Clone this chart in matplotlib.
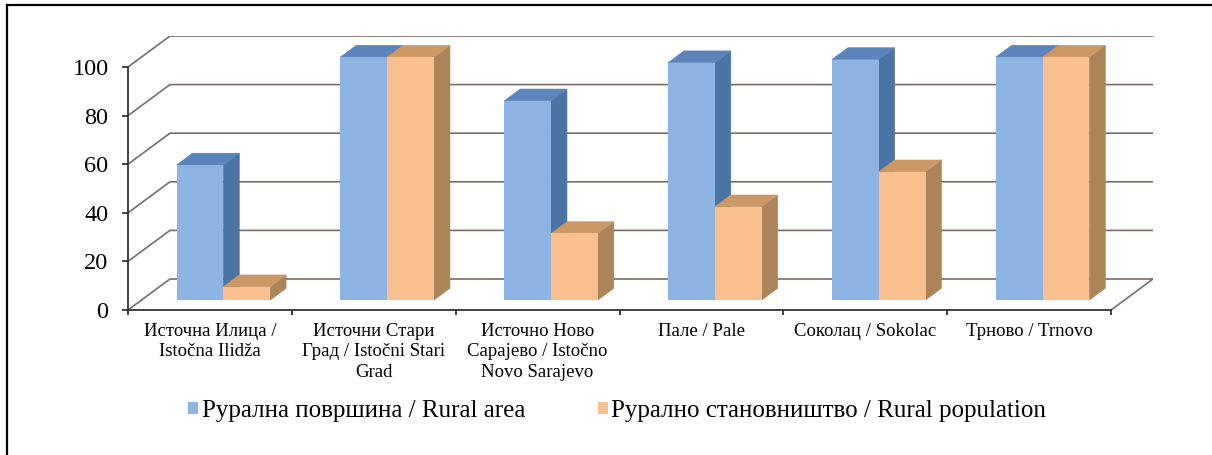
# Rural area and rural population share by municipality, Excel-style 3D columns

import numpy
import matplotlib
matplotlib.use('Agg')
import matplotlib.pyplot
from matplotlib.patches import Polygon, Patch
from matplotlib.lines import Line2D

# Data
categories = ['Источна Илица /\nIstočna Ilidža',
              'Источни Стари\nГрад / Istočni Stari\nGrad',
              'Источно Ново\nСарајево / Istočno\nNovo Sarajevo',
              'Пале / Pale',
              'Соколац / Sokolac',
              'Трново / Trnovo']
rural_area = [55.6, 100, 82, 97.7, 99, 100]
rural_population = [5.5, 100, 27.4, 38.4, 52.8, 100]
series_names = ['Рурална површина / Rural area',
                'Рурално становништво / Rural population']
y_ticks = [0, 20, 40, 60, 80, 100]

# Colours: front, top, side
blue = ('#8db4e2', '#5a84ba', '#4a74a4')
orange = ('#fac08f', '#cc9866', '#ad845a')
grid_col = '#786e66'
axis_col = '#333333'

matplotlib.pyplot.rcParams['font.family'] = ['Liberation Serif', 'DejaVu Serif']

fig = matplotlib.pyplot.figure(figsize=(12.12, 4.55), dpi=100, facecolor='white')
ax = fig.add_axes([128/1212, 1-310/455, (1153-128)/1212, (310-36)/455])
ax.set_facecolor('none')

n = len(categories)
# Oblique depth of the floor/back wall, in data units
DX = 42/164.
DY = 12.76
d0 = 0.32    # front of bars as a fraction of floor depth
dd = 0.38    # bar depth as a fraction of floor depth
w = 1/3.5    # bar width (gap width 150%)

ax.set_xlim(0, n+DX)
ax.set_ylim(0, 100+DY)

# Back wall gridlines and floor
for v in y_ticks:
    ax.plot([0, DX, n+DX], [v, v+DY, v+DY], color=grid_col, linewidth=1.2,
            zorder=1, solid_capstyle='butt')
ax.plot([n, n+DX], [0, DY], color=grid_col, linewidth=1.2, zorder=1)


def draw_bar(x0, val, cols, z):
    b = d0*DY
    t = b+val
    ox, oy = dd*DX, dd*DY
    ax.bar(x0, val, width=w, bottom=b, align='edge', color=cols[0],
           linewidth=0, zorder=z+0.2)
    side = [(x0+w, b), (x0+w+ox, b+oy), (x0+w+ox, t+oy), (x0+w, t)]
    top = [(x0, t), (x0+w, t), (x0+w+ox, t+oy), (x0+ox, t+oy)]
    ax.add_patch(Polygon(side, closed=True, facecolor=cols[2],
                         edgecolor=cols[2], linewidth=0.4, zorder=z))
    ax.add_patch(Polygon(top, closed=True, facecolor=cols[1],
                         edgecolor=cols[1], linewidth=0.4, zorder=z+0.1))


for i in range(n):
    xc = i+0.5+d0*DX
    draw_bar(xc-w, rural_area[i], blue, 2+2*i)
    draw_bar(xc, rural_population[i], orange, 3+2*i)

# Axes lines and ticks
for s in ['top', 'right']:
    ax.spines[s].set_visible(False)
ax.spines['left'].set_bounds(0, 100)
ax.spines['bottom'].set_bounds(0, n)
for s in ['left', 'bottom']:
    ax.spines[s].set_color(axis_col)
    ax.spines[s].set_linewidth(1.3)
    ax.spines[s].set_zorder(30)

ax.set_yticks(y_ticks)
ax.set_yticklabels([str(v) for v in y_ticks], fontsize=17.5)
ax.tick_params(axis='y', direction='out', length=4, width=1.3,
               color=axis_col, pad=10)

ax.set_xticks(numpy.arange(n)+0.5)
ax.set_xticklabels(categories, fontsize=13.5, linespacing=1.3)
ax.set_xticks(numpy.arange(n+1), minor=True)
ax.tick_params(axis='x', which='major', length=0, pad=9)
ax.tick_params(axis='x', which='minor', direction='out', length=3.5,
               width=1.3, color=axis_col)

# Legend
handles = [Patch(facecolor=blue[0], edgecolor='none'),
           Patch(facecolor=orange[0], edgecolor='none')]
fig.legend(handles, series_names, loc='center', bbox_to_anchor=(617/1212, 1-411/455),
           ncol=2, frameon=False, fontsize=18, handlelength=0.4,
           handleheight=0.4, handletextpad=0.15, columnspacing=2.9)

# Frame round the picture (left and top edges show)
fig.add_artist(Line2D([7/1212, 7/1212], [0, 1-5/455], color='black', linewidth=1.6))
fig.add_artist(Line2D([7/1212, 1], [1-5/455, 1-5/455], color='black', linewidth=1.6))

matplotlib.pyplot.savefig('out.png', dpi=100, facecolor='white')
